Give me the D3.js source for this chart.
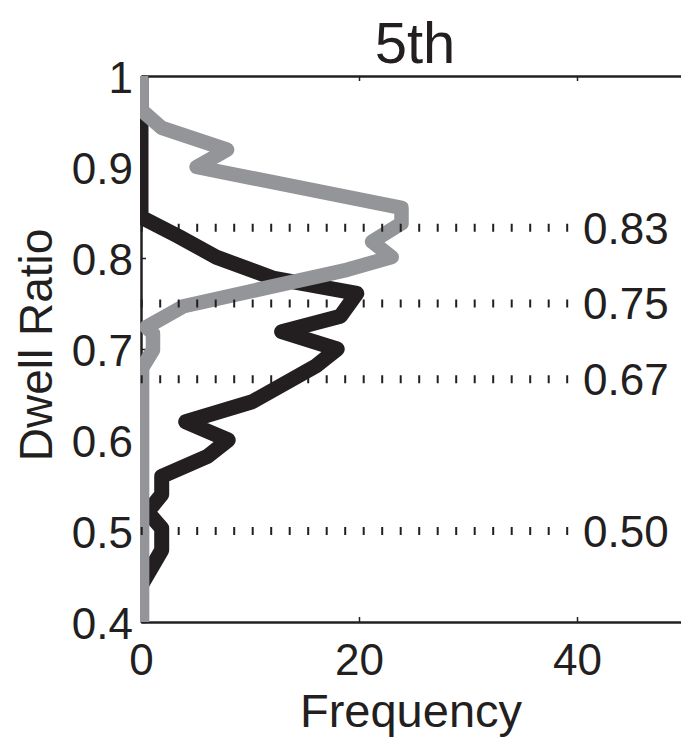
<!DOCTYPE html>
<html>
<head>
<meta charset="utf-8">
<script src="https://cdn.jsdelivr.net/npm/d3@7"></script>
<style>
  body { margin: 0; background: #fff; }
  svg { display: block; }
  text { font-family: "Liberation Sans", Arial, Helvetica, sans-serif; fill: #231f20; }
</style>
</head>
<body>
<script>
// dwell ratio histograms (frequency polygons)
var blackRatio = [1.00, 0.845, 0.824, 0.801, 0.778, 0.761, 0.736, 0.719, 0.700, 0.681, 0.642, 0.620, 0.600, 0.582, 0.560, 0.540, 0.521, 0.503, 0.479, 0.44];
var blackFreq  = [0,    0,     3.4,   6.9,   12.1,  19.8,  18.3,  12.9,  18.0,  16.0,  10.2,  4.1,   8.0,   6.1,   1.9,   1.9,   0.6,   1.9,   1.9,   0];

var grayRatio = [1.00, 0.963, 0.943, 0.919, 0.900, 0.855, 0.838, 0.818, 0.801, 0.787, 0.747, 0.724, 0.717, 0.699, 0.679, 0.40];
var grayFreq  = [0,    0,     1.9,   7.9,   5.1,   23.9,  23.9,  21.2,  23.0,  18.9,  3.9,   0.5,   1.1,   1.1,   0.1,   0.1];

var refRatio  = [0.8333, 0.75, 0.6667, 0.50];
var refLabels = ["0.83", "0.75", "0.67", "0.50"];
var refEnd = 39.2;

var xTicks = [0, 20, 40];
var yTicks = [0.4, 0.5, 0.6, 0.7, 0.8, 0.9, 1];
var title = "5th";

var W = 681, H = 737;
var margin = {left: 141, top: 76, right: -5, bottom: 115};
var ink = "#231f20", grey = "#939598";

var x = d3.scaleLinear().domain([0, 50]).range([margin.left, W - margin.right]);
var y = d3.scaleLinear().domain([0.4, 1]).range([H - margin.bottom, margin.top]);

var svg = d3.select("body").append("svg")
    .attr("width", W).attr("height", H);

svg.append("defs").append("clipPath").attr("id", "plotclip")
  .append("rect")
    .attr("x", x(0) - 1).attr("y", y(1))
    .attr("width", x(50) - x(0) + 1).attr("height", y(0.4) - y(1));

function styleAxis(g) {
  g.select(".domain").attr("stroke", ink).attr("stroke-width", 2.5);
  g.selectAll(".tick line").attr("stroke", ink).attr("stroke-width", 1.5);
  g.selectAll("text").attr("font-family", null).attr("font-size", 44).style("fill", ink);
  g.attr("font-family", null).attr("font-size", null);
}

// axes box
svg.append("g").attr("transform", "translate(0," + y(0.4) + ")")
  .call(d3.axisBottom(x).tickValues(xTicks).tickSizeInner(-5).tickSizeOuter(0).tickPadding(22))
  .call(styleAxis);
svg.append("g").attr("transform", "translate(0," + y(1) + ")")
  .call(d3.axisTop(x).tickValues(xTicks).tickSizeInner(-5).tickSizeOuter(0).tickFormat(""))
  .call(styleAxis);
var yAxisG = svg.append("g").attr("transform", "translate(" + x(0) + ",0)")
  .call(d3.axisLeft(y).tickValues(yTicks).tickSizeInner(-5).tickSizeOuter(0).tickPadding(8).tickFormat(d3.format("~g")))
  .call(styleAxis);
yAxisG.selectAll("text").attr("dy", "0.37em");
svg.append("g").attr("transform", "translate(" + x(50) + ",0)")
  .call(d3.axisRight(y).tickValues(yTicks).tickSizeInner(-5).tickSizeOuter(0).tickFormat(""))
  .call(styleAxis);

// frequency polygons
var line = d3.line()
  .x(function(d) { return x(d.f); })
  .y(function(d) { return y(d.r); });

var blackData = blackRatio.map(function(r, i) { return {r: r, f: blackFreq[i]}; });
var grayData = grayRatio.map(function(r, i) { return {r: r, f: grayFreq[i]}; });

var plot = svg.append("g").attr("clip-path", "url(#plotclip)");
plot.append("path").datum(blackData)
  .attr("d", line)
  .attr("fill", "none").attr("stroke", ink)
  .attr("stroke-width", 15).attr("stroke-linejoin", "round");
plot.append("path").datum(grayData)
  .attr("d", line)
  .attr("fill", "none").attr("stroke", grey)
  .attr("stroke-width", 14.5).attr("stroke-linejoin", "round");

// reference ratios
svg.selectAll(".ref").data(refRatio)
  .enter().append("line")
    .attr("class", "ref")
    .attr("x1", x(0) - 0.3).attr("x2", x(refEnd))
    .attr("y1", function(d) { return y(d); })
    .attr("y2", function(d) { return y(d); })
    .attr("stroke", ink).attr("stroke-width", 8)
    .attr("stroke-dasharray", "2,16.5");

svg.selectAll(".refLabel").data(refRatio)
  .enter().append("text")
    .attr("class", "refLabel")
    .attr("x", x(40) + 6)
    .attr("y", function(d) { return y(d); })
    .attr("dy", "0.36em")
    .attr("font-size", 44)
    .text(function(d, i) { return refLabels[i]; });

// titles
svg.append("text")
  .attr("x", 415).attr("y", 63)
  .attr("text-anchor", "middle")
  .attr("font-size", 58)
  .text(title);

svg.append("text")
  .attr("x", 411).attr("y", 727)
  .attr("text-anchor", "middle")
  .attr("font-size", 47)
  .text("Frequency");

svg.append("text")
  .attr("transform", "translate(52," + 345 + ") rotate(-90)")
  .attr("text-anchor", "middle")
  .attr("font-size", 46)
  .text("Dwell Ratio");
</script>
</body>
</html>
